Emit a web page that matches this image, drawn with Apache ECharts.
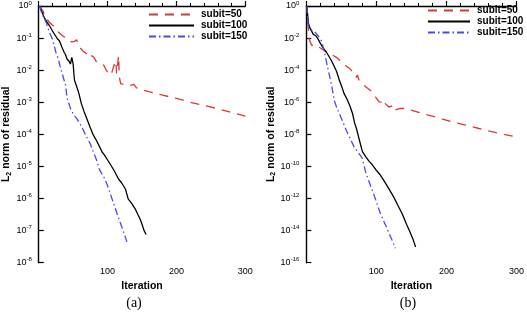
<!DOCTYPE html>
<html>
<head>
<meta charset="utf-8">
<script src="https://cdn.jsdelivr.net/npm/echarts@6/dist/echarts.min.js"></script>
<style>
html,body{margin:0;padding:0;background:#fff;}
#chart{width:527px;height:312px;}
</style>
</head>
<body>
<div id="chart"></div>
<script>
// 数据: [迭代步, log10(残差)]
var seriesNames = ['subit=50', 'subit=100', 'subit=150'];
var xTicks = [0, 100, 200, 300];

// (a)
var a_sub50 = [[1,0],[3,-0.05],[6,-0.15],[10,-0.35],[15,-0.5],[20,-0.6],[24,-0.68],[28,-0.8],[32,-0.88],[36,-0.95],[40,-1.0],[44,-1.08],[48,-1.12],[52,-1.1],[55,-1.05],[57,-1.2],[60,-1.3],[64,-1.4],[67,-1.45],[70,-1.5],[74,-1.62],[77,-1.55],[80,-1.6],[84,-1.75],[88,-1.78],[92,-1.8],[95,-1.86],[98,-2.0],[102,-2.12],[105,-2.15],[107,-2.18],[110,-1.8],[112,-1.72],[113,-2.1],[114,-2.12],[116,-1.55],[117,-2.2],[119,-2.42],[125,-2.45],[133,-2.47],[138,-2.44],[140,-2.42],[142,-2.55],[145,-2.58],[160,-2.67],[180,-2.78],[200,-2.88],[220,-3.0],[240,-3.1],[260,-3.2],[280,-3.32],[300,-3.43]];
var a_sub100 = [[1,0],[3,-0.1],[5,-0.2],[8,-0.36],[12,-0.5],[16,-0.63],[20,-0.78],[23,-0.88],[27,-1.02],[30,-1.08],[32,-1.14],[34,-1.3],[37,-1.45],[39,-1.52],[41,-1.65],[44,-1.72],[46,-1.81],[48,-1.6],[49,-1.62],[50,-1.81],[51,-2.1],[52,-2.32],[55,-2.5],[58,-2.7],[62,-3.05],[66,-3.3],[70,-3.52],[74,-3.75],[79,-4.01],[84,-4.2],[88,-4.37],[92,-4.55],[95,-4.63],[100,-4.8],[105,-4.97],[110,-5.15],[116,-5.4],[120,-5.5],[126,-5.71],[130,-6.02],[135,-6.15],[140,-6.32],[144,-6.5],[147,-6.63],[150,-6.8],[153,-7.0],[156,-7.12]];
var a_sub150 = [[1,0],[4,-0.2],[8,-0.4],[11,-0.52],[15,-0.8],[20,-1.04],[25,-1.45],[28,-1.62],[32,-1.96],[36,-2.25],[39,-2.47],[41,-2.85],[46,-3.19],[51,-3.4],[55,-3.5],[60,-3.67],[65,-3.88],[70,-4.1],[75,-4.3],[79,-4.53],[84,-4.8],[88,-5.09],[95,-5.35],[100,-5.6],[105,-5.92],[109,-6.17],[115,-6.55],[120,-6.85],[125,-7.15],[128,-7.35]];

// (b)
var b_sub50 = [[1,0],[2,-1.0],[4,-2.0],[6,-2.3],[8,-2.45],[12,-2.4],[16,-2.5],[19,-2.59],[25,-2.75],[31,-2.9],[37,-3.05],[43,-3.2],[48,-3.4],[53,-3.6],[57,-3.75],[62,-3.9],[66,-4.1],[71,-4.45],[73,-4.3],[75,-4.6],[78,-4.75],[85,-5.05],[90,-5.2],[94,-5.36],[100,-5.75],[104,-5.98],[108,-6.0],[111,-5.85],[113,-6.1],[118,-6.3],[124,-6.2],[126,-6.5],[134,-6.38],[141,-6.39],[158,-6.6],[174,-6.8],[191,-7.0],[207,-7.2],[226,-7.41],[245,-7.62],[263,-7.82],[282,-8.0],[300,-8.15]];
var b_sub100 = [[1,0],[2,-0.6],[3,-1.05],[5,-1.36],[8,-1.6],[10,-1.77],[14,-1.87],[17,-2.08],[22,-2.48],[29,-2.9],[36,-3.41],[43,-4.05],[47,-4.6],[52,-5.2],[54,-5.46],[58,-5.8],[62,-6.2],[66,-6.7],[69,-7.3],[72,-7.7],[76,-8.4],[80,-9.06],[85,-9.4],[90,-9.7],[94,-9.88],[99,-10.19],[105,-10.5],[111,-10.9],[118,-11.4],[125,-11.93],[131,-12.45],[137,-12.96],[143,-13.6],[148,-14.09],[152,-14.5],[156,-15.02]];
var b_sub150 = [[1,0],[2,-0.8],[3,-1.25],[6,-1.45],[10,-1.56],[14,-1.7],[17,-1.87],[22,-2.2],[26,-2.9],[31,-3.95],[36,-4.9],[40,-5.9],[44,-6.4],[47,-6.7],[52,-7.2],[57,-7.75],[63,-8.3],[69,-8.85],[73,-9.06],[80,-9.5],[85,-10.4],[90,-11.0],[98,-11.95],[106,-12.96],[115,-13.85],[122,-14.55],[127,-15.1]];

var colors = ['#d83838', '#000000', '#4b4be8'];
var dashes = [[9, 7], 'solid', [7, 3, 1.5, 3]];
var font = 'Liberation Sans, Arial, sans-serif';

var myChart = echarts.init(document.getElementById('chart'));

function xAxisOf(gi){
	return {
		type: 'value', gridIndex: gi, min: 0, max: 300, interval: 100,
		name: 'Iteration', nameLocation: 'middle', nameGap: 17,
		nameTextStyle: {fontFamily: font, fontWeight: 'bold', fontSize: 10.5, color: '#000'},
		axisLine: {lineStyle: {color: '#000', width: 1.4}},
		axisTick: {inside: true, length: 5, lineStyle: {color: '#000', width: 1.2}},
		minorTick: {show: true, splitNumber: 5, length: 3, lineStyle: {color: '#000', width: 1}},
		splitLine: {show: false},
		axisLabel: {
			margin: 4, fontFamily: font, fontSize: 9, color: '#000', showMaxLabel: true,
			formatter: function(v){ return v === 0 ? '' : String(v); }
		}
	};
}
function yAxisOf(gi, min, step, gap){
	return {
		type: 'value', gridIndex: gi, min: min, max: 0, interval: step,
		name: '{n|L}{sub|2}{n| norm of residual}', nameLocation: 'middle', nameGap: gap,
		nameTextStyle: {
			color: '#000',
			rich: {
				n: {fontFamily: font, fontWeight: 'bold', fontSize: 10.5, color: '#000'},
				sub: {fontFamily: font, fontWeight: 'bold', fontSize: 7, color: '#000', verticalAlign: 'bottom', padding: [5, 0, 0, 0]}
			}
		},
		axisLine: {onZero: false, lineStyle: {color: '#000', width: 1.4}},
		axisTick: {inside: true, length: 5, lineStyle: {color: '#000', width: 1.2}},
		splitLine: {show: false},
		axisLabel: {
			margin: 7, color: '#000', showMinLabel: true, showMaxLabel: true,
			formatter: function(v){ return '{b|10}{s|' + v + '}'; },
			rich: {
				b: {fontFamily: font, fontSize: 9, color: '#000', lineHeight: 12},
				s: {fontFamily: font, fontSize: 6, color: '#000', verticalAlign: 'top', lineHeight: 6}
			}
		}
	};
}
function lineOf(i, data, gi){
	return {
		name: seriesNames[i], type: 'line', xAxisIndex: gi, yAxisIndex: gi,
		data: data, symbol: 'none', showSymbol: false, animation: false,
		color: colors[i],
		lineStyle: {color: colors[i], width: 1.3, type: dashes[i]}
	};
}
function legendOf(left, top, w){
	return {
		orient: 'vertical', left: left, top: top, padding: 0,
		itemWidth: w, itemHeight: 11, itemGap: 0,
		itemStyle: {opacity: 0},
		data: seriesNames,
		textStyle: {fontFamily: font, fontWeight: 'bold', fontSize: 10, color: '#000', lineHeight: 11, padding: [0, 0, 0, 2]}
	};
}

var option = {
	backgroundColor: '#fff',
	animation: false,
	grid: [
		{left: 32.3, top: 3, width: 213, height: 259.7},
		{left: 306.3, top: 3, width: 213, height: 259.7}
	],
	legend: [legendOf(148, 9, 45), legendOf(427, 5, 42)],
	xAxis: [xAxisOf(0), xAxisOf(1)],
	yAxis: [yAxisOf(0, -8, 1, 22), yAxisOf(1, -16, 2, 28)],
	graphic: [
		{type: 'text', x: 134, y: 303, style: {text: '(a)', fontFamily: 'Liberation Serif, serif', fontSize: 14, fill: '#000', textAlign: 'center', textVerticalAlign: 'middle'}},
		{type: 'text', x: 408, y: 303, style: {text: '(b)', fontFamily: 'Liberation Serif, serif', fontSize: 14, fill: '#000', textAlign: 'center', textVerticalAlign: 'middle'}}
	],
	series: [
		lineOf(0, a_sub50, 0), lineOf(1, a_sub100, 0), lineOf(2, a_sub150, 0),
		lineOf(0, b_sub50, 1), lineOf(1, b_sub100, 1), lineOf(2, b_sub150, 1)
	]
};
myChart.setOption(option);
</script>
</body>
</html>
